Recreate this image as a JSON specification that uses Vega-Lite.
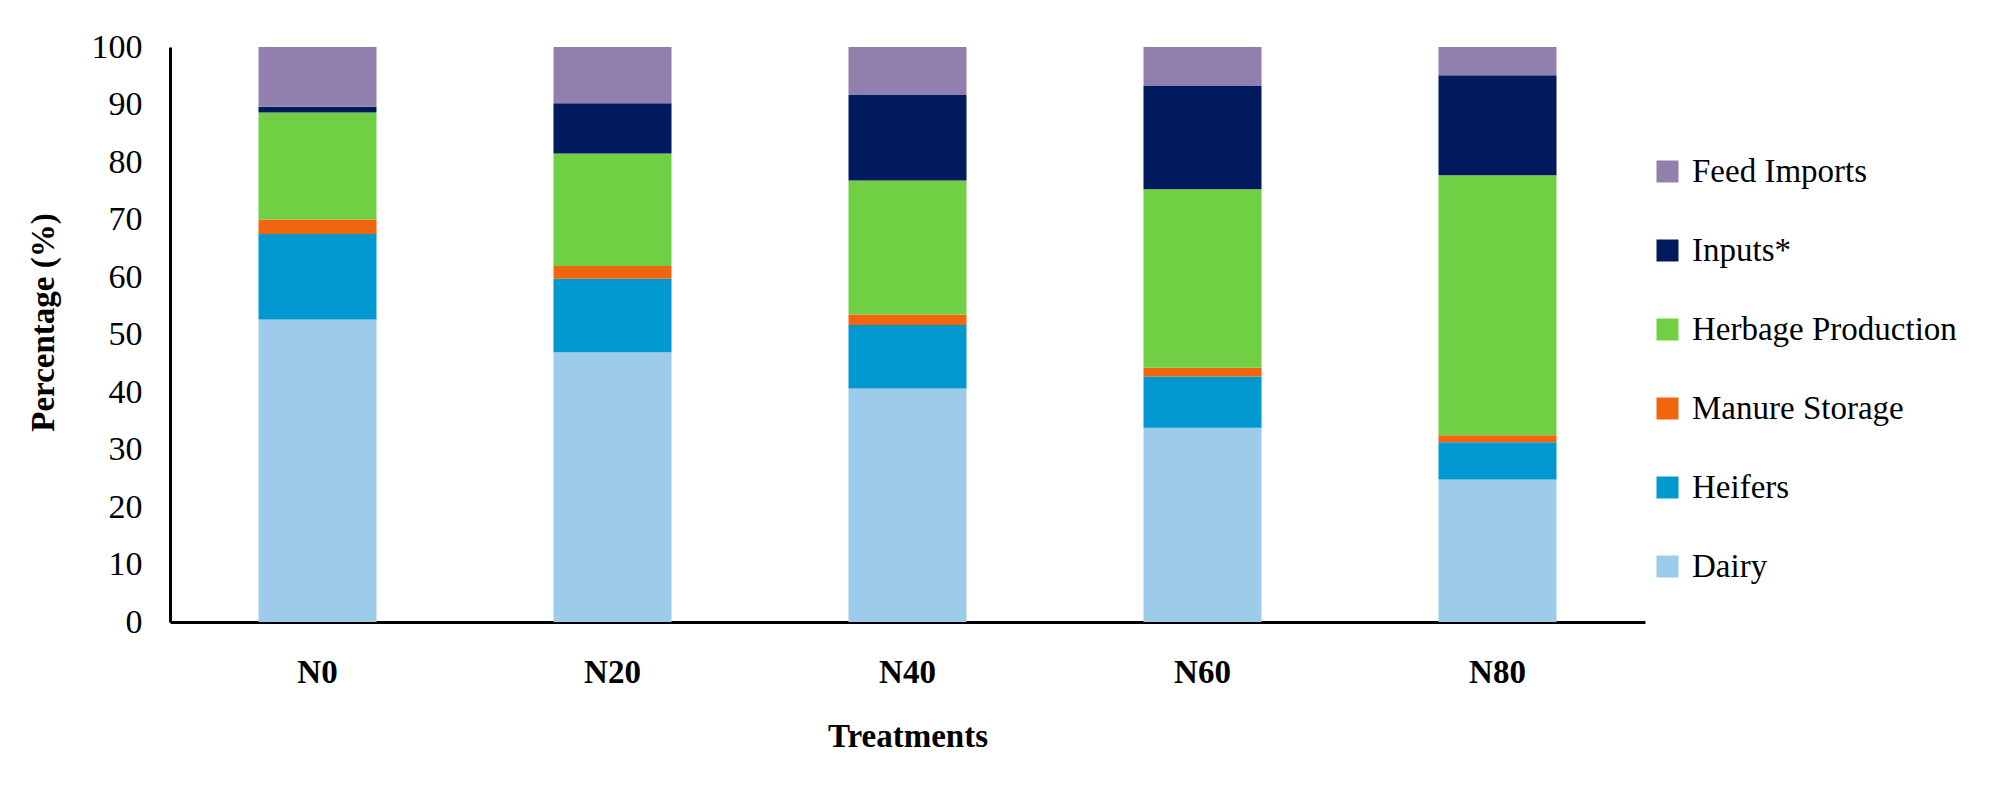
{
  "$schema": "https://vega.github.io/schema/vega-lite/v6.json",
  "width": 1475,
  "height": 575,
  "autosize": "none",
  "padding": {"left": 170, "top": 47, "right": 365, "bottom": 163},
  "background": "white",
  "data": {
    "values": [
      {"treatment": "N0", "component": "Dairy", "value": 52.6},
      {"treatment": "N0", "component": "Heifers", "value": 14.9},
      {"treatment": "N0", "component": "Manure Storage", "value": 2.5},
      {"treatment": "N0", "component": "Herbage Production", "value": 18.6},
      {"treatment": "N0", "component": "Inputs*", "value": 1.0},
      {"treatment": "N0", "component": "Feed Imports", "value": 10.4},
      {"treatment": "N20", "component": "Dairy", "value": 46.9},
      {"treatment": "N20", "component": "Heifers", "value": 12.8},
      {"treatment": "N20", "component": "Manure Storage", "value": 2.2},
      {"treatment": "N20", "component": "Herbage Production", "value": 19.6},
      {"treatment": "N20", "component": "Inputs*", "value": 8.7},
      {"treatment": "N20", "component": "Feed Imports", "value": 9.8},
      {"treatment": "N40", "component": "Dairy", "value": 40.6},
      {"treatment": "N40", "component": "Heifers", "value": 11.05},
      {"treatment": "N40", "component": "Manure Storage", "value": 1.85},
      {"treatment": "N40", "component": "Herbage Production", "value": 23.3},
      {"treatment": "N40", "component": "Inputs*", "value": 14.85},
      {"treatment": "N40", "component": "Feed Imports", "value": 8.35},
      {"treatment": "N60", "component": "Dairy", "value": 33.8},
      {"treatment": "N60", "component": "Heifers", "value": 8.9},
      {"treatment": "N60", "component": "Manure Storage", "value": 1.5},
      {"treatment": "N60", "component": "Herbage Production", "value": 31.05},
      {"treatment": "N60", "component": "Inputs*", "value": 17.95},
      {"treatment": "N60", "component": "Feed Imports", "value": 6.8},
      {"treatment": "N80", "component": "Dairy", "value": 24.8},
      {"treatment": "N80", "component": "Heifers", "value": 6.45},
      {"treatment": "N80", "component": "Manure Storage", "value": 1.25},
      {"treatment": "N80", "component": "Herbage Production", "value": 45.2},
      {"treatment": "N80", "component": "Inputs*", "value": 17.4},
      {"treatment": "N80", "component": "Feed Imports", "value": 4.9}
    ]
  },
  "transform": [
    {"calculate": "indexof(['Dairy','Heifers','Manure Storage','Herbage Production','Inputs*','Feed Imports'], datum.component)", "as": "stackOrder"}
  ],
  "mark": {"type": "bar"},
  "encoding": {
    "x": {
      "field": "treatment",
      "type": "nominal",
      "sort": ["N0", "N20", "N40", "N60", "N80"],
      "scale": {"paddingInner": 0.6, "paddingOuter": 0.3},
      "axis": {
        "title": "Treatments",
        "labelAngle": 0,
        "labelFont": "Liberation Serif",
        "labelFontSize": 33,
        "labelFontWeight": "bold",
        "labelColor": "black",
        "labelPadding": 34,
        "ticks": false,
        "domainColor": "black",
        "domainWidth": 3,
        "titleFont": "Liberation Serif",
        "titleFontSize": 33,
        "titleFontWeight": "bold",
        "titleColor": "black",
        "titleBaseline": "middle",
        "titleY": 114,
        "grid": false
      }
    },
    "y": {
      "field": "value",
      "type": "quantitative",
      "stack": "zero",
      "scale": {"domain": [0, 100], "nice": false},
      "axis": {
        "title": "Percentage (%)",
        "values": [0, 10, 20, 30, 40, 50, 60, 70, 80, 90, 100],
        "labelFont": "Liberation Serif",
        "labelFontSize": 34,
        "labelColor": "black",
        "labelPadding": 28,
        "ticks": false,
        "grid": false,
        "domainColor": "black",
        "domainWidth": 3,
        "titleFont": "Liberation Serif",
        "titleFontSize": 33,
        "titleFontWeight": "bold",
        "titleColor": "black",
        "titleAngle": -90,
        "titleAlign": "center",
        "titleBaseline": "middle",
        "titleX": -127,
        "titleY": 275
      }
    },
    "order": {"field": "stackOrder", "type": "quantitative", "sort": "ascending"},
    "color": {
      "field": "component",
      "type": "nominal",
      "sort": ["Dairy", "Heifers", "Manure Storage", "Herbage Production", "Inputs*", "Feed Imports"],
      "scale": {
        "domain": ["Dairy", "Heifers", "Manure Storage", "Herbage Production", "Inputs*", "Feed Imports"],
        "range": ["#9DCBEA", "#0098CF", "#F0650E", "#70D044", "#001A5E", "#917FAE"]
      },
      "legend": {
        "title": null,
        "orient": "none",
        "legendX": 1481,
        "legendY": 108,
        "values": ["Feed Imports", "Inputs*", "Herbage Production", "Manure Storage", "Heifers", "Dairy"],
        "symbolType": "square",
        "symbolSize": 484,
        "symbolStrokeWidth": 0,
        "labelFont": "Liberation Serif",
        "labelFontSize": 33,
        "labelColor": "black",
        "labelOffset": 8,
        "rowPadding": 45,
        "labelLimit": 400
      }
    }
  },
  "config": {"view": {"stroke": null}}
}
